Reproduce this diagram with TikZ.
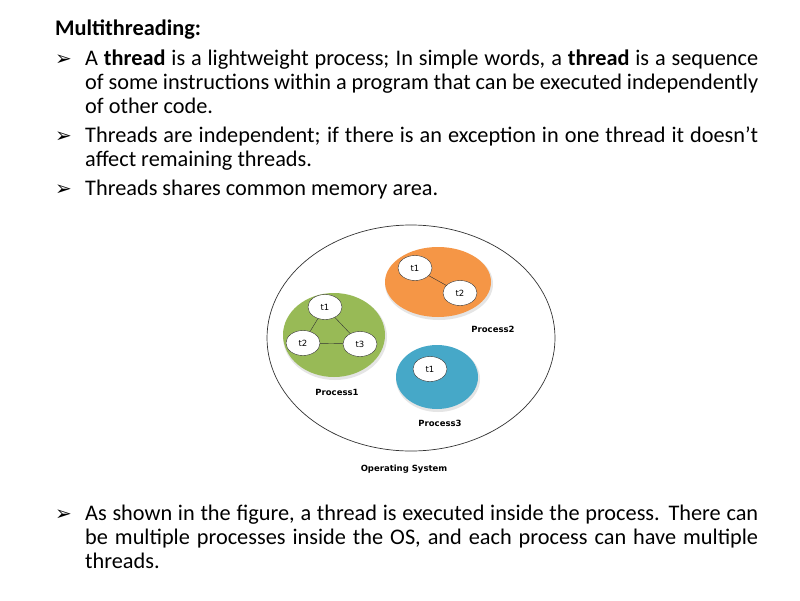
\documentclass[tikz,border=0pt]{standalone}
\usepackage{fontspec}
\setmainfont{Carlito}
\newfontfamily\dv{DejaVu Sans}
\definecolor{pgreen}{RGB}{152,186,86}
\definecolor{porange}{RGB}{245,150,70}
\definecolor{pblue}{RGB}{70,168,200}
\begin{document}
\begin{tikzpicture}[x=1pt,y=-1pt,
  txt/.style={anchor=base west,inner sep=0,font=\fontsize{22.3}{24}\selectfont},
  bul/.style={anchor=base west,inner sep=0,font=\dv\fontsize{20}{20}\selectfont},
  lbl/.style={font=\dv\bfseries\fontsize{8.5}{10}\selectfont,inner sep=0}]
\useasboundingbox (0,0) rectangle (800,600);
\fill[white] (0,0) rectangle (800,600);
\node[txt] (title) at (55,35) {\textbf{Multithreading:}};
\node[bul] (b1) at (55,65) {➢};
\node[txt] (l1) at (85,65) {\makebox[673pt][s]{A \textbf{thread} is a lightweight process; In simple words, a \textbf{thread} is a sequence}};
\node[txt] (l2) at (85,89) {\makebox[673pt][s]{of some instructions within a program that can be executed independently}};
\node[txt] (l3) at (85,113) {of other code.};
\node[bul] (b2) at (55,142) {➢};
\node[txt] (l4) at (85,142) {\makebox[673pt][s]{Threads are independent; if there is an exception in one thread it doesn’t}};
\node[txt] (l5) at (85,166) {affect remaining threads.};
\node[bul] (b3) at (55,195) {➢};
\node[txt] (l6) at (85,195) {Threads shares common memory area.};
\node[bul] (b4) at (55,520) {➢};
\node[txt] (l7) at (85,520) {\makebox[673pt][s]{As shown in the figure, a thread is executed inside the process. There can}};
\node[txt] (l8) at (85,544) {\makebox[673pt][s]{be multiple processes inside the OS, and each process can have multiple}};
\node[txt] (l9) at (85,568) {threads.};
% diagram
\draw[black!80,line width=0.7pt] (411,338) ellipse [x radius=144, y radius=113];
\fill[black!10] (335,337) ellipse [x radius=52, y radius=43];
\fill[black!10] (439,284) ellipse [x radius=54, y radius=36];
\fill[black!10] (438,379) ellipse [x radius=42, y radius=33];
\fill[pgreen] (334,335) ellipse [x radius=51, y radius=42];
\fill[porange] (438,282) ellipse [x radius=53, y radius=35];
\fill[pblue] (437,377) ellipse [x radius=41, y radius=32];
\coordinate (a1) at (325,307); \coordinate (a2) at (303,343); \coordinate (a3) at (360,344);
\coordinate (c1) at (415,268); \coordinate (c2) at (460,293); \coordinate (d1) at (430,369);
\draw[black!80] (a1)--(a2)--(a3)--cycle;
\draw[black!80] (c1)--(c2);
\foreach \p/\t in {a1/t1,a2/t2,a3/t3,c1/t1,c2/t2,d1/t1}{
  \draw[black!80,fill=white] (\p) ellipse [x radius=17, y radius=12.5];
  \node[font=\dv\fontsize{8.5}{9}\selectfont,inner sep=0] (n\p) at (\p) {\t};
}
\node[lbl] (p1) at (337,392) {Process1};
\node[lbl] (p2) at (493,329) {Process2};
\node[lbl] (p3) at (440,423) {Process3};
\node[lbl] (os) at (404,469) {Operating System};
\end{tikzpicture}
\end{document}
